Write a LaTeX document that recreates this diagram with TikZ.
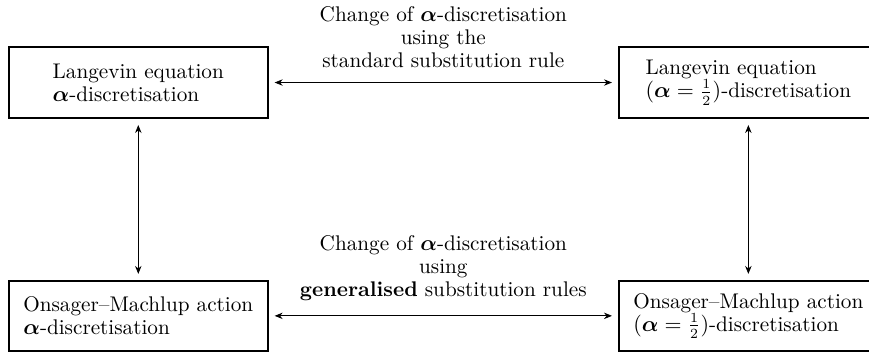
\documentclass[tikz,border=0pt]{standalone}
\usepackage{amsmath}
\usepackage{amssymb}
\usepackage{bm}
\usepackage{tikz}
\usetikzlibrary{arrows.meta}

\tikzset{
  box/.style = {draw, line width=0.9pt, minimum width=4.55cm, minimum height=1.25cm, align=left},
  link/.style = {{Stealth[length=4pt,width=3.2pt]}-{Stealth[length=4pt,width=3.2pt]}, shorten <=3pt, shorten >=3pt},
  rulelabel/.style = {above=4pt, align=center}
}

\begin{document}
\begin{tikzpicture}[font=\fontsize{10.6}{11.5}\selectfont]
\useasboundingbox (0,0) rectangle (15.27,6.2);
\clip (0,0) rectangle (15.27,6.2);
\node [box] (langA) at (2.43,4.75) {Langevin equation\\ $\bm{\alpha}$-discretisation};
\node [box] (langH) at (13.15,4.75) {Langevin equation\\ $(\bm{\alpha} = \frac{1}{2})$-discretisation};
\node [box, minimum height=1.23cm] (onsA) at (2.43,0.65) {Onsager--Machlup action\\ $\bm{\alpha}$-discretisation};
\node [box, minimum height=1.23cm] (onsH) at (13.15,0.65) {Onsager--Machlup action\\ $(\bm{\alpha} = \frac{1}{2})$-discretisation};
\draw [link] (langA) -- (langH) node [midway, rulelabel]
  {Change of $\bm{\alpha}$-discretisation\\ using the\\ standard substitution rule};
\draw [link] (onsA) -- (onsH) node [midway, rulelabel]
  {Change of $\bm{\alpha}$-discretisation\\ using\\ \textbf{generalised} substitution rules};
\draw [link] (langA) -- (onsA);
\draw [link] (langH) -- (onsH);
\end{tikzpicture}
\end{document}
